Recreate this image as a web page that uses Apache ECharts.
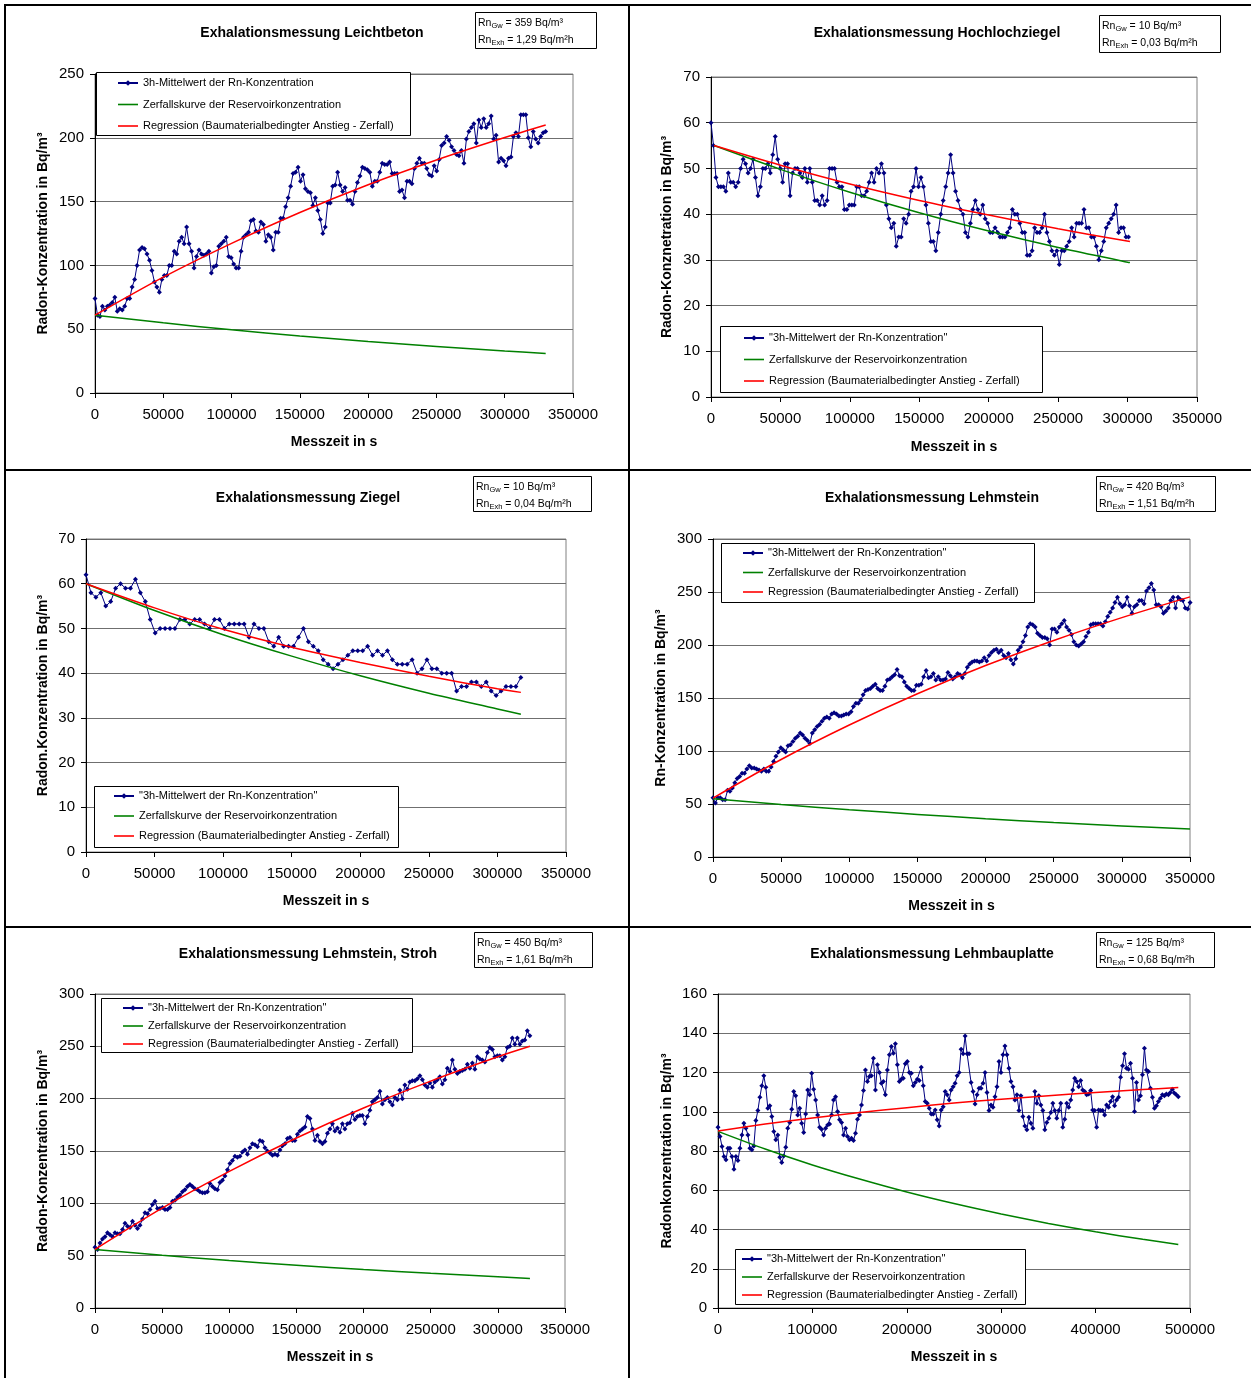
<!DOCTYPE html>
<html><head><meta charset="utf-8">
<script src="https://cdn.jsdelivr.net/npm/echarts@6/dist/echarts.min.js"></script>
<style>html,body{margin:0;padding:0;background:#fff}#c{width:1251px;height:1378px}</style>
</head><body><div id="c"></div>
<script>
const FONT = '"Liberation Sans", Arial, sans-serif';

// ---------- DATA ----------
// 1) Leichtbeton
const leichtbetonStepS = 1813;
const leichtbetonMean = [74,61,60,68,65,68,69,71,75,64,66,65,68,74,74,83,89,100,112,114,113,109,104,96,87,83,79,89,92,92,100,100,111,109,119,122,117,130,117,111,98,107,112,109,108,109,111,94,99,100,115,117,119,122,107,106,101,98,98,111,122,124,126,135,136,127,126,134,132,119,124,122,112,126,126,137,137,146,153,162,172,173,177,166,171,160,158,157,147,153,143,136,125,130,149,149,162,163,173,163,158,161,151,151,148,158,165,170,177,176,175,173,162,166,166,173,180,179,179,181,172,172,172,158,159,153,166,166,164,176,180,184,180,180,176,171,170,178,174,183,194,196,201,198,193,190,187,186,190,180,199,205,208,211,196,214,208,215,208,211,217,199,202,181,184,182,178,184,185,201,204,201,218,218,218,200,193,205,199,196,201,204,205];
const leichtbetonDecay = [[0,61],[50000,55],[100000,49.5],[150000,44.7],[200000,40.3],[250000,36.5],[300000,33],[330000,31]];
const leichtbetonRegression = [[0,61],[50000,90.8],[100000,117.3],[150000,141.5],[200000,163.2],[250000,182.6],[300000,200.2],[330000,210]];

// 2) Hochlochziegel
const hochlochStepS = 1779;
const hochlochMean = [60,55,48,46,46,46,45,49,47,47,46,47,50,52,51,49,50,52,48,44,46,50,50,51,49,53,57,52,50,47,51,51,44,49,50,50,49,48,50,47,50,47,43,43,42,44,42,43,50,50,50,47,46,46,41,41,42,42,42,46,46,44,44,45,47,49,47,50,49,51,49,42,39,37,38,33,35,35,39,38,40,45,46,50,46,48,46,42,38,34,34,32,36,40,43,46,49,53,49,45,43,41,40,36,35,38,41,43,41,40,42,39,38,36,36,37,36,35,35,35,36,37,41,40,40,38,36,36,31,31,32,37,36,36,37,40,36,34,32,31,32,29,32,32,33,34,37,35,38,38,38,41,37,37,35,35,33,30,32,34,37,38,39,40,42,36,37,37,35,35];
const hochlochDecay = [[2200,55],[50000,49.8],[100000,44.8],[150000,40.3],[200000,36.3],[250000,32.7],[301700,29.4]];
const hochlochRegression = [[2200,55],[50000,50.7],[100000,46.6],[150000,43],[200000,39.8],[250000,36.8],[301700,34]];

// 3) Ziegel
const ziegelStepS = 3603;
const ziegelMean = [62,58,57,58,55,56,59,60,59,59,61,58,56,52,49,50,50,50,50,52,52,51,52,52,51,50,52,52,50,51,51,51,51,48,51,50,50,47,46,48,46,46,46,48,50,47,46,45,43,42,41,42,43,44,45,45,45,46,44,45,44,45,43,42,42,42,43,40,41,43,41,41,40,40,40,36,37,37,38,38,37,38,36,35,36,37,37,37,39];
const ziegelDecay = [[0,60],[50000,54],[100000,48.6],[150000,43.8],[200000,39.4],[250000,35.5],[300000,32],[317100,30.8]];
const ziegelRegression = [[0,60],[50000,54.6],[100000,49.8],[150000,45.8],[200000,42.4],[250000,39.3],[300000,36.5],[317100,35.7]];

// 4) Lehmstein
const lehmsteinStepS = 1777;
const lehmsteinMean = [56,51,56,56,54,54,63,62,65,70,74,76,79,79,83,86,84,84,83,82,81,83,81,81,85,90,95,99,103,101,99,105,106,109,112,114,117,115,112,110,107,117,120,123,125,128,131,132,131,135,136,135,133,133,134,135,135,137,142,145,145,148,153,157,158,159,161,163,159,157,157,161,167,168,170,172,177,171,170,165,161,159,157,157,162,162,163,170,176,169,170,173,167,170,167,167,168,174,171,168,170,173,172,169,173,179,182,184,185,185,184,185,188,185,190,193,195,196,193,195,190,188,192,186,182,187,195,198,203,209,217,220,219,217,211,209,207,207,206,200,215,215,212,217,220,223,217,214,210,203,200,199,201,203,208,212,219,220,220,220,220,218,222,227,231,235,240,245,239,236,238,245,237,230,236,238,242,242,239,251,254,258,252,238,238,236,230,232,235,242,245,235,245,243,242,235,234,240];
const lehmsteinDecay = [[0,55],[50000,49.5],[100000,44.6],[150000,40.2],[200000,36.1],[250000,32.5],[300000,29.3],[350000,26.4]];
const lehmsteinRegression = [[0,55.6],[50000,92],[100000,124.5],[150000,154],[200000,180.6],[250000,204.3],[300000,225.8],[350000,245.4]];

// 5) Lehmstein, Stroh
const strohStepS = 1861;
const strohMean = [58,56,62,66,68,72,70,68,72,71,71,75,81,78,77,83,79,76,79,85,91,90,94,99,102,95,95,96,94,94,96,102,103,106,108,111,113,116,118,116,114,113,111,110,110,111,119,116,114,113,120,122,126,132,138,141,145,144,145,149,151,147,153,157,156,154,160,159,153,150,148,146,147,146,151,155,157,162,163,160,160,166,169,171,173,183,181,171,160,165,159,157,159,167,171,176,169,172,168,176,171,176,177,186,180,183,184,184,176,183,189,197,199,201,207,195,199,201,197,194,201,199,208,200,213,209,216,217,217,219,222,218,213,211,215,211,216,218,221,214,218,229,226,237,228,224,226,227,228,233,229,234,228,240,238,237,235,244,249,247,240,241,241,237,240,249,250,258,252,258,252,255,256,265,260];
const strohDecay = [[0,56],[50000,50.4],[100000,45.4],[150000,40.9],[200000,36.8],[250000,33.1],[300000,29.8],[323900,28.2]];
const strohRegression = [[0,56],[50000,95.4],[100000,130.5],[150000,162.4],[200000,191.1],[250000,216.8],[300000,240],[323900,250]];

// 6) Lehmbauplatte
const lehmbauStepS = 2111;
const lehmbauMean = [92.1,87.4,82.3,77.2,75.5,81.4,81.4,77.2,70.7,77.2,75.1,81.4,88.2,94.2,91.6,88.2,81.4,80.6,82.6,95.5,100.6,107.4,113.2,118.3,112.5,101.8,103,97.6,89.9,85.7,88.2,76.8,74.1,77.5,81.9,91.6,94.5,101.3,110.3,108.1,98.4,101.8,94.2,89.4,98.9,111.1,108.6,119.6,111.5,106,98.4,92.1,91.1,88.2,91.6,93.3,93.8,98.4,106,107.7,100.1,95.9,94.5,88.2,91.6,87.4,85.7,86.5,85.3,89.1,96.2,98.4,103.5,110.8,121.3,115.4,117.9,118.3,127.3,111.1,123.9,120,114.5,115.4,108.6,121.3,129,133.2,129.8,134.6,123.9,115.4,116.6,117.1,124.4,125.6,120,119.6,113.2,114.9,116.6,115.9,122.7,113.2,105.2,104.3,101.8,98.9,98.9,100.9,95.9,92.8,100.9,102.6,110.3,108.6,106,111.1,112.8,114.5,118.3,120,131.8,129.5,138.6,129.5,129.5,114.9,110.3,104,108.6,112,112,114.5,120,109.8,100.6,103.5,102.3,107.7,112.8,125.6,120,129,133.5,129,122.2,115.4,112.8,106,108.6,100.6,108.1,97.6,92.8,90.8,97.2,94.2,91.6,110.3,104.3,108.1,103.5,100.6,90.8,94.5,96.7,99.6,104.3,100.6,96.7,100.6,104.3,92.1,96.2,104.3,102.3,106,111.1,117.1,115.4,112.8,115.9,111.1,110.3,108.6,109.1,110.8,100.9,100.6,92.1,100.9,100.6,100.6,98.4,103.5,102.3,105.2,107.7,103,106,107.4,117.6,123.4,129.5,122.2,121.7,124.7,117.1,100.1,114.9,106,108.1,118.8,132.4,121.3,120.5,112,107.4,101.8,103,105.2,106.9,108.6,108.1,109.1,108.6,109.8,111.5,109.5,108.6,107.7];
const lehmbauDecay = [[0,90],[50000,81],[100000,72.9],[150000,65.7],[200000,59.1],[250000,53.2],[300000,47.9],[350000,43.1],[400000,38.8],[450000,35],[487600,32.4]];
const lehmbauRegression = [[0,90.2],[50000,93.7],[100000,96.8],[150000,99.6],[200000,102.1],[250000,104.4],[300000,106.4],[350000,108.2],[400000,109.8],[450000,111.3],[487600,112.3]];

const MEAN_Q = '"3h-Mittelwert der Rn-Konzentration"';
const MEAN_NQ = '3h-Mittelwert der Rn-Konzentration';
const DECAY_NAME = 'Zerfallskurve der Reservoirkonzentration';
const REG_NAME = 'Regression (Baumaterialbedingter Anstieg - Zerfall)';

// ---------- LAYOUT ----------
const panels = [
 {title:'Exhalationsmessung Leichtbeton', tx:312, ty:33, gw:'359', exh:'1,29', box:[475,12,121,36],
  grid:[95,74,478,319], xMax:350000, xStep:50000, yMax:250, yStep:50,
  yName:'Radon-Konzentration in Bq/m³', yGap:45, xGap:42, meanName:MEAN_NQ,
  mean:leichtbetonMean, step:leichtbetonStepS, decay:leichtbetonDecay, reg:leichtbetonRegression,
  legBox:[96,72,314,63], legLeft:117, legTop:77, legGap:9.5},
 {title:'Exhalationsmessung Hochlochziegel', tx:937, ty:33, gw:'10', exh:'0,03', box:[1099,15,121,37],
  grid:[711,77,486,320], xMax:350000, xStep:50000, yMax:70, yStep:10,
  yName:'Radon-Konznetration in Bq/m³', yGap:37, xGap:43, meanName:MEAN_Q,
  mean:hochlochMean, step:hochlochStepS, decay:hochlochDecay, reg:hochlochRegression,
  legBox:[720,326,322,66], legLeft:743, legTop:332, legGap:9.5},
 {title:'Exhalationsmessung Ziegel', tx:308, ty:498, gw:'10', exh:'0,04', box:[473,476,118,35],
  grid:[86,539,480,313], xMax:350000, xStep:50000, yMax:70, yStep:10,
  yName:'Radon.Konzentration in Bq/m³', yGap:36, xGap:42, meanName:MEAN_Q,
  mean:ziegelMean, step:ziegelStepS, decay:ziegelDecay, reg:ziegelRegression,
  legBox:[94,786,304,61], legLeft:113, legTop:790, legGap:8},
 {title:'Exhalationsmessung Lehmstein', tx:932, ty:498, gw:'420', exh:'1,51', box:[1096,476,119,35],
  grid:[713,539,477,318], xMax:350000, xStep:50000, yMax:300, yStep:50,
  yName:'Rn-Konzentration in Bq/m³', yGap:45, xGap:42, meanName:MEAN_Q,
  mean:lehmsteinMean, step:lehmsteinStepS, decay:lehmsteinDecay, reg:lehmsteinRegression,
  legBox:[721,543,313,59], legLeft:742, legTop:547, legGap:7.5},
 {title:'Exhalationsmessung Lehmstein, Stroh', tx:308, ty:954, gw:'450', exh:'1,61', box:[474,932,118,35],
  grid:[95,994,470,314], xMax:350000, xStep:50000, yMax:300, yStep:50,
  yName:'Radon-Konzentration in Bq/m³', yGap:45, xGap:42, meanName:MEAN_Q,
  mean:strohMean, step:strohStepS, decay:strohDecay, reg:strohRegression,
  legBox:[101,998,311,54], legLeft:122, legTop:1002, legGap:6},
 {title:'Exhalationsmessung Lehmbauplatte', tx:932, ty:954, gw:'125', exh:'0,68', box:[1096,932,118,35],
  grid:[718,994,472,314], xMax:500000, xStep:100000, yMax:160, yStep:20,
  yName:'Radonkonzentration in Bq/m³', yGap:44, xGap:42, meanName:MEAN_Q,
  mean:lehmbauMean, step:lehmbauStepS, decay:lehmbauDecay, reg:lehmbauRegression,
  legBox:[735,1249,290,55], legLeft:741, legTop:1253, legGap:6}
];

const grids=[], xAxes=[], yAxes=[], series=[], legends=[], gfx=[];
const txtStyle = (extra) => Object.assign({fill:'#000'}, extra);
const LINE_ICON = 'path://M0 0H20V1.6H0Z';

panels.forEach((p,i)=>{
  grids.push({left:p.grid[0], top:p.grid[1], width:p.grid[2], height:p.grid[3],
    containLabel:false, outerBoundsMode:'none', show:true, borderColor:'#808080', borderWidth:1, backgroundColor:'transparent'});
  xAxes.push({gridIndex:i, type:'value', min:0, max:p.xMax, interval:p.xStep,
    axisLine:{show:true, onZero:false, lineStyle:{color:'#000', width:1}},
    axisTick:{show:true, inside:false, length:5, lineStyle:{color:'#000'}},
    axisLabel:{color:'#000', fontSize:15, fontFamily:FONT, margin:14, formatter:(v)=>String(v)},
    splitLine:{show:false},
    name:'Messzeit in s', nameLocation:'middle', nameGap:p.xGap,
    nameTextStyle:{color:'#000', fontSize:14, fontWeight:'bold', fontFamily:FONT}});
  yAxes.push({gridIndex:i, type:'value', min:0, max:p.yMax, interval:p.yStep,
    axisLine:{show:true, onZero:false, lineStyle:{color:'#000', width:1}},
    axisTick:{show:true, inside:false, length:5, lineStyle:{color:'#000'}},
    axisLabel:{color:'#000', fontSize:15, fontFamily:FONT, margin:11, formatter:(v)=>String(v)},
    splitLine:{show:true, lineStyle:{color:'#6f6f6f', width:1}},
    name:p.yName, nameLocation:'middle', nameGap:p.yGap,
    nameTextStyle:{color:'#000', fontSize:14, fontWeight:'bold', fontFamily:FONT}});
  series.push({type:'line', name:p.meanName, xAxisIndex:i, yAxisIndex:i,
    data:p.mean.map((v,k)=>[k*p.step, v]),
    symbol:'diamond', symbolSize:5, showSymbol:true,
    lineStyle:{color:'#000080', width:1}, itemStyle:{color:'#000080'}, z:3, silent:true});
  series.push({type:'line', name:DECAY_NAME, xAxisIndex:i, yAxisIndex:i,
    data:p.decay, symbol:'none', smooth:0.3,
    lineStyle:{color:'#008000', width:1.5}, itemStyle:{color:'#008000'}, z:4, silent:true});
  series.push({type:'line', name:REG_NAME, xAxisIndex:i, yAxisIndex:i,
    data:p.reg, symbol:'none', smooth:0.3,
    lineStyle:{color:'#ff0000', width:1.5}, itemStyle:{color:'#ff0000'}, z:5, silent:true});
  legends.push({data:[p.meanName, {name:DECAY_NAME, icon:LINE_ICON}, {name:REG_NAME, icon:LINE_ICON}],
    orient:'vertical', left:p.legLeft, top:p.legTop,
    padding:0, itemGap:p.legGap, itemWidth:20, itemHeight:7, selectedMode:false, z:20,
    textStyle:{color:'#000', fontSize:11, fontFamily:FONT, lineHeight:12}});
  // legend box
  gfx.push({type:'rect', z:10, shape:{x:p.legBox[0]+0.5, y:p.legBox[1]+0.5, width:p.legBox[2], height:p.legBox[3]},
    style:{fill:'#fff', stroke:'#000', lineWidth:1}});
  // info box
  gfx.push({type:'rect', z:10, shape:{x:p.box[0]+0.5, y:p.box[1]+0.5, width:p.box[2], height:p.box[3]},
    style:{fill:'#fff', stroke:'#000', lineWidth:1}});
  const rich = {
    a:{fontSize:10.5, fontFamily:FONT, fill:'#000', color:'#000', lineHeight:12, verticalAlign:'top'},
    b:{fontSize:7.5, fontFamily:FONT, fill:'#000', color:'#000', lineHeight:8, padding:[6,0,0,0], verticalAlign:'bottom'}
  };
  gfx.push({type:'text', z:11, x:p.box[0]+3, y:p.box[1]+6,
    style:txtStyle({text:'{a|Rn}{b|Gw}{a| = '+p.gw+' Bq/m³}', rich:rich, font:'10.5px '+FONT})});
  gfx.push({type:'text', z:11, x:p.box[0]+3, y:p.box[1]+23,
    style:txtStyle({text:'{a|Rn}{b|Exh}{a| = '+p.exh+' Bq/m²h}', rich:rich, font:'10.5px '+FONT})});
  // title
  gfx.push({type:'text', z:11, x:p.tx, y:p.ty,
    style:txtStyle({text:p.title, font:'bold 14px '+FONT, textAlign:'center', textVerticalAlign:'middle', align:'center', verticalAlign:'middle'})});
});

// page frame lines
[[4,5,1251,5],[5,4,5,1378],[629,5,629,1378],[5,470,1251,470],[5,927,1251,927]].forEach(l=>{
  gfx.push({type:'line', z:12, shape:{x1:l[0], y1:l[1], x2:l[2], y2:l[3]}, style:{stroke:'#000', lineWidth:2}});
});

const chart = echarts.init(document.getElementById('c'), null, {renderer:'canvas'});
chart.setOption({
  animation:false,
  backgroundColor:'#fff',
  grid:grids, xAxis:xAxes, yAxis:yAxes, series:series, legend:legends,
  graphic:{elements:gfx}
});
</script>
</body></html>
